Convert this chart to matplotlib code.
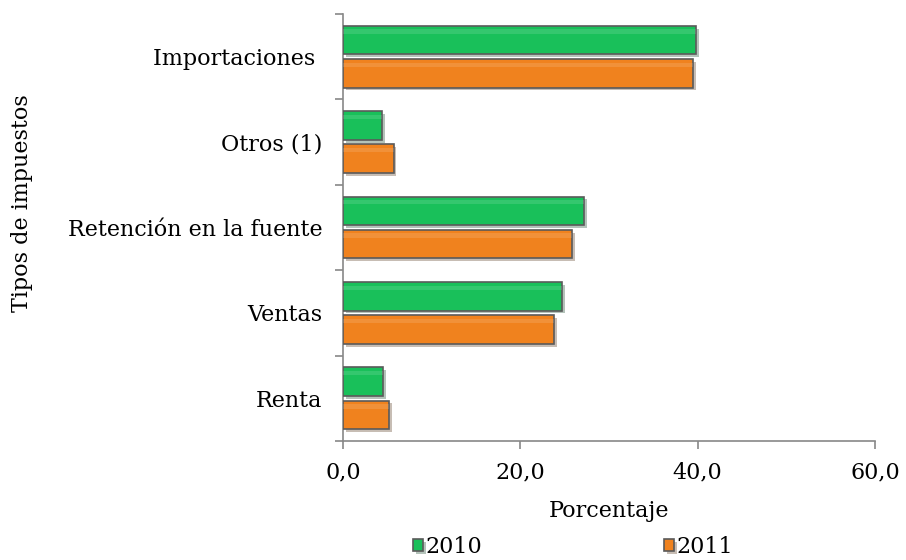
import matplotlib
matplotlib.use("Agg")
import matplotlib.pyplot as plt
import matplotlib.patheffects as pe
import numpy as np

categories = ["Renta", "Ventas", "Retención en la fuente", "Otros (1)", "Importaciones "]
values_2010 = [4.5, 24.7, 27.2, 4.4, 39.8]
values_2011 = [5.2, 23.8, 25.8, 5.7, 39.5]
series_names = ["2010", "2011"]
xticks = [0, 20, 40, 60]
xtick_labels = ["0,0", "20,0", "40,0", "60,0"]

plt.rcParams['font.family'] = ['DejaVu Serif']
FS = 16

fig = plt.figure(figsize=(9.06, 5.6), dpi=100)
ax = fig.add_axes([343/906, 1-441/560, (875-343)/906, (441-14)/560])

y = np.arange(len(categories))
h = 0.335
off = 0.195
green = "#19c05a"
orange = "#f0821e"
shadow = [pe.SimplePatchShadow(offset=(2, -2), alpha=0.3), pe.Normal()]
b1 = ax.barh(y + off, values_2010, height=h, color=green, edgecolor="#5a5a5a", linewidth=1.2, label=series_names[0], zorder=3)
b2 = ax.barh(y - off, values_2011, height=h, color=orange, edgecolor="#5a5a5a", linewidth=1.2, label=series_names[1], zorder=3)
for b in list(b1) + list(b2):
    b.set_path_effects(shadow)
# soft gloss strips
ax.barh(y + off + h*0.3, values_2010, height=h*0.15, color="white", alpha=0.12, linewidth=0, zorder=4)
ax.barh(y - off + h*0.3, values_2011, height=h*0.15, color="white", alpha=0.12, linewidth=0, zorder=4)

ax.set_xlim(0, 60)
ax.set_ylim(-0.5, len(categories) - 0.5)
ax.set_xticks(xticks)
ax.set_xticklabels(xtick_labels, fontsize=FS)
ax.set_yticks(y)
ax.set_yticklabels(categories, fontsize=FS)
ax.set_yticks(np.arange(-0.5, len(categories)), minor=True)
ax.tick_params(axis='y', which='major', length=0, pad=15)
ax.tick_params(axis='y', which='minor', length=6, color="#888888", direction='out', width=1.2)
ax.tick_params(axis='x', length=6, color="#888888", pad=9, width=1.2)
for s in ['top', 'right']:
    ax.spines[s].set_visible(False)
for s in ['left', 'bottom']:
    ax.spines[s].set_color("#888888")
    ax.spines[s].set_linewidth(1.2)

ax.set_xlabel("Porcentaje", fontsize=FS, labelpad=12)
ax.set_ylabel("Tipos de impuestos", fontsize=FS)
ax.yaxis.set_label_coords((33 - 343)/532, (441-203)/427)

leg = fig.legend(handles=[b1, b2], labels=series_names, loc='center', bbox_to_anchor=(573/906, 1-547/560),
                 ncol=2, frameon=False, fontsize=FS, handlelength=0.45, handleheight=0.45,
                 handletextpad=0.1, columnspacing=8.2)

fig.savefig("out.png", dpi=100)
